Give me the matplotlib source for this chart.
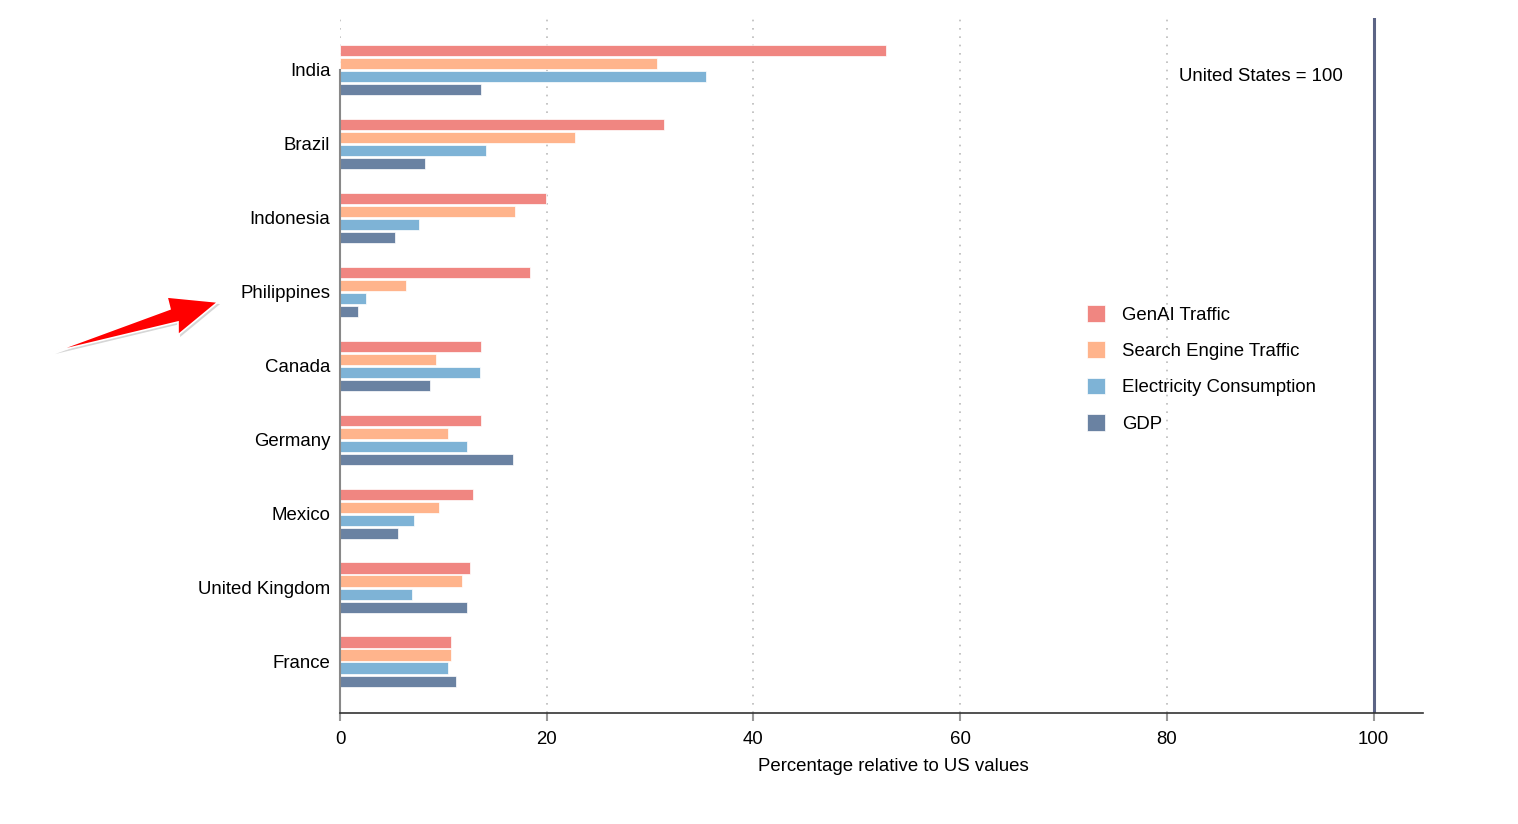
import numpy as np
import matplotlib.pyplot as plt
import matplotlib.patheffects as pe
from matplotlib.patches import Polygon

plt.rcParams['font.family'] = ['Liberation Sans', 'DejaVu Sans']

countries = ['India', 'Brazil', 'Indonesia', 'Philippines', 'Canada',
             'Germany', 'Mexico', 'United Kingdom', 'France']
genai = [52.8, 31.3, 19.9, 18.4, 13.6, 13.6, 12.9, 12.6, 10.7]
search = [30.7, 22.7, 16.9, 6.4, 9.3, 10.4, 9.6, 11.8, 10.7]
electricity = [35.4, 14.1, 7.6, 2.5, 13.5, 12.3, 7.2, 7.0, 10.4]
gdp = [13.6, 8.2, 5.3, 1.7, 8.7, 16.7, 5.6, 12.3, 11.2]

series = [('GenAI Traffic', genai, '#F08681'),
          ('Search Engine Traffic', search, '#FFB48C'),
          ('Electricity Consumption', electricity, '#7EB3D6'),
          ('GDP', gdp, '#6A82A2')]

fig = plt.figure(figsize=(15.18, 8.24), dpi=100)
ax = fig.add_axes([0.224, 0.135, 0.7135, 0.843])

ypos = np.arange(len(countries))[::-1]
step = 0.176
for i, (name, vals, col) in enumerate(series):
    offset = (1.5 - i) * step
    ax.barh(ypos + offset, vals, height=0.155, color=col, label=name,
            edgecolor='white', linewidth=0.5)

ax.set_yticks(ypos)
ax.set_yticklabels(countries, fontsize=13.4)
ax.tick_params(axis='y', length=0, pad=7)
ax.set_xlim(0, 104.8)
ax.set_ylim(-0.69, 8.70)
ax.set_xticks([0, 20, 40, 60, 80, 100])
ax.tick_params(axis='x', labelsize=13.4, color='#999999', length=6, pad=7,
               width=1.5)
ax.set_xlabel('Percentage relative to US values', fontsize=13.4, labelpad=6)
ax.xaxis.set_label_coords(0.511, -0.065)

ax.grid(axis='x', linestyle=(0, (1, 4)), color='#bbbbbb', linewidth=1.2)
ax.set_axisbelow(True)
for s in ['top', 'right']:
    ax.spines[s].set_visible(False)
ax.spines['left'].set_color('#888888')
ax.spines['left'].set_linewidth(1.5)
ax.spines['left'].set_bounds(-0.69, 8)
ax.spines['bottom'].set_color('#333333')
ax.spines['bottom'].set_linewidth(1.2)

ax.axvline(100, color='#5C6485', linewidth=2.2)
ax.text(97.0, 7.91, 'United States = 100', ha='right', va='center', fontsize=13.4)

ax.legend(loc='center left', bbox_to_anchor=(0.674, 0.495), frameon=False,
          fontsize=13.4, handlelength=1.0, handleheight=1.0, labelspacing=0.95,
          handletextpad=0.9)

# red arrow pointing at Philippines
pts = [(53, 352), (170, 309), (167, 297), (218, 302), (178, 335), (178, 322)]
arrow = Polygon([(x / 1518, 1 - y / 824) for x, y in pts], closed=True,
                transform=fig.transFigure, facecolor='#FF0000',
                edgecolor='white', linewidth=1.2,
                path_effects=[pe.SimplePatchShadow(offset=(1.5, -1.5),
                                                   shadow_rgbFace='#999999',
                                                   alpha=0.4),
                              pe.Normal()])
fig.patches.append(arrow)

fig.savefig('out.png', dpi=100, facecolor='white')
